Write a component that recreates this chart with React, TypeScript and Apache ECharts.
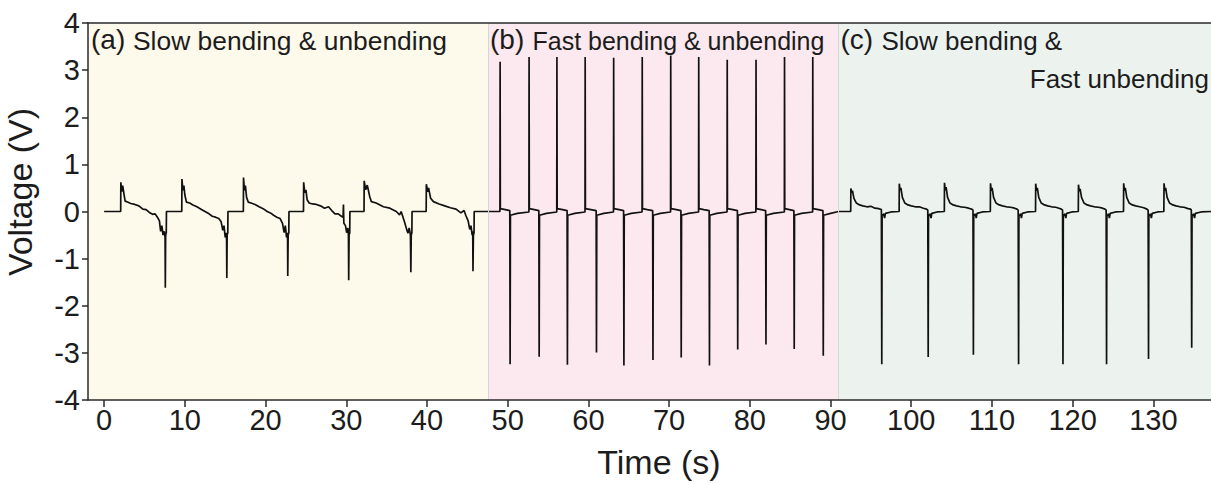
import React, { useEffect, useRef } from "react";
import * as echarts from "echarts";

// ---- axis ticks ----
const xTicks = [0, 10, 20, 30, 40, 50, 60, 70, 80, 90, 100, 110, 120, 130];
const X_MIN = -2;
const X_MAX = 137.14;

// ---- shaded regions ----
const regionBounds = [-2, 47.6, 90.9, 137.14];
const regionColors = ["#fdf9eb", "#fce9ef", "#ecf3ee"];

// ---- annotations ----
const regionTags = ["(a)", "(b)", "(c)"];
const regionTexts = ["Slow bending & unbending", "Fast bending & unbending", "Slow bending &", "Fast unbending"];

// ---- (a) slow bending & unbending : [time s, voltage V] ----
const slowSegment: number[][] = [
  [0, 0], [2.05, 0],
  [2.07, 0.62], [2.18, 0.42], [2.3, 0.55], [2.45, 0.38], [2.6, 0.22], [2.9, 0.2], [3.3, 0.17], [3.8, 0.15], [4.3, 0.12], [4.8, 0.05], [5.2, 0.04], [5.6, -0.02], [6.0, -0.06], [6.3, -0.05], [6.6, -0.12], [6.85, -0.2], [7.0, -0.42], [7.15, -0.3], [7.3, -0.5], [7.45, -0.42], [7.55, -0.55], [7.58, -1.62], [7.62, -0.5], [7.7, -0.45], [7.72, 0], [9.62, 0],
  [9.64, 0.69], [9.75, 0.45], [9.88, 0.55], [10.0, 0.35], [10.2, 0.2], [10.6, 0.18], [11.0, 0.14], [11.5, 0.1], [12.0, 0.05], [12.5, 0.0], [13.0, -0.05], [13.4, -0.1], [13.8, -0.12], [14.2, -0.15], [14.5, -0.22], [14.7, -0.4], [14.85, -0.3], [15.0, -0.55], [15.1, -0.45], [15.17, -0.6], [15.2, -1.41], [15.24, -0.5], [15.32, -0.45], [15.34, 0], [17.25, 0],
  [17.27, 0.72], [17.38, 0.45], [17.5, 0.55], [17.65, 0.3], [17.85, 0.2], [18.2, 0.18], [18.7, 0.15], [19.2, 0.1], [19.7, 0.06], [20.2, 0.0], [20.6, -0.03], [21.0, -0.08], [21.4, -0.12], [21.8, -0.15], [22.1, -0.25], [22.3, -0.45], [22.45, -0.3], [22.6, -0.55], [22.7, -0.45], [22.73, -0.6], [22.75, -1.37], [22.8, -0.5], [22.88, -0.45], [22.9, 0], [24.7, 0],
  [24.72, 0.62], [24.85, 0.4], [25.0, 0.46], [25.15, 0.25], [25.4, 0.18], [25.8, 0.16], [26.3, 0.15], [26.8, 0.12], [27.3, 0.07], [27.8, 0.1], [28.2, 0.02], [28.6, -0.05], [29.0, -0.05], [29.4, -0.1], [29.6, -0.12], [29.65, 0.15], [29.7, -0.25], [29.9, -0.3], [30.05, -0.45], [30.2, -0.35], [30.27, -0.5], [30.3, -1.46], [30.35, -0.5], [30.43, -0.45], [30.45, 0], [32.2, 0],
  [32.22, 0.65], [32.4, 0.46], [32.6, 0.56], [32.9, 0.32], [33.1, 0.21], [33.7, 0.18], [34.6, 0.1], [35.4, 0.07], [36.2, 0.0], [36.6, -0.07], [36.8, 0.0], [37.2, -0.21], [37.5, -0.39], [37.65, -0.46], [37.8, -0.35], [37.95, -0.5], [38.0, -1.29], [38.05, -0.5], [38.13, -0.45], [38.15, 0], [39.9, 0],
  [39.92, 0.58], [40.1, 0.42], [40.2, 0.5], [40.45, 0.28], [40.8, 0.21], [41.5, 0.16], [42.2, 0.12], [42.9, 0.08], [43.6, 0.05], [44.2, -0.03], [44.6, 0.02], [44.8, -0.08], [45.1, -0.2], [45.3, -0.38], [45.45, -0.3], [45.6, -0.5], [45.67, -0.42], [45.7, -1.27], [45.75, -0.5], [45.83, -0.45], [45.85, 0], [49.04, 0],
];

// ---- (b) fast bending & unbending ----
const fastSegment: number[][] = [
  [49.06, 3.18], [49.09, 0.06], [49.7, 0.04], [50.26, 0.02], [50.3, -3.24], [50.34, -0.08], [51.2, -0.04], [52.63, -0.01],
  [52.65, 3.28], [52.68, 0.06], [53.3, 0.04], [53.86, 0.02], [53.9, -3.08], [53.94, -0.08], [54.8, -0.04], [56.08, -0.01],
  [56.1, 3.28], [56.13, 0.06], [56.8, 0.04], [57.36, 0.02], [57.4, -3.25], [57.44, -0.08], [58.3, -0.04], [59.58, -0.01],
  [59.6, 3.28], [59.63, 0.06], [60.3, 0.04], [60.96, 0.02], [61.0, -2.99], [61.04, -0.08], [61.9, -0.04], [63.11, -0.01],
  [63.13, 3.26], [63.16, 0.06], [63.8, 0.04], [64.36, 0.02], [64.4, -3.27], [64.44, -0.08], [65.3, -0.04], [66.65, -0.01],
  [66.67, 3.28], [66.7, 0.06], [67.3, 0.04], [67.96, 0.02], [68.0, -3.15], [68.04, -0.08], [68.9, -0.04], [70.18, -0.01],
  [70.2, 3.31], [70.23, 0.06], [70.9, 0.04], [71.46, 0.02], [71.5, -3.1], [71.54, -0.08], [72.4, -0.04], [73.65, -0.01],
  [73.67, 3.28], [73.7, 0.06], [74.3, 0.04], [74.96, 0.02], [75.0, -3.27], [75.04, -0.08], [75.9, -0.04], [77.18, -0.01],
  [77.2, 3.22], [77.23, 0.06], [77.9, 0.04], [78.46, 0.02], [78.5, -2.93], [78.54, -0.08], [79.4, -0.04], [80.75, -0.01],
  [80.77, 3.22], [80.8, 0.06], [81.4, 0.04], [81.96, 0.02], [82.0, -2.82], [82.04, -0.08], [82.9, -0.04], [84.28, -0.01],
  [84.3, 3.28], [84.33, 0.06], [84.9, 0.04], [85.46, 0.02], [85.5, -2.92], [85.54, -0.08], [86.4, -0.04], [87.78, -0.01],
  [87.8, 3.28], [87.83, 0.06], [88.5, 0.04], [89.06, 0.02], [89.1, -3.06], [89.14, -0.08], [90.0, -0.04], [91.0, 0.0],
];

// ---- (c) slow bending & fast unbending ----
const mixedSegment: number[][] = [
  [92.5, 0],
  [92.52, 0.49], [92.62, 0.4], [92.72, 0.44], [92.9, 0.28], [93.2, 0.18], [93.6, 0.14], [94.0, 0.12], [94.5, 0.1], [95.0, 0.11], [95.5, 0.07], [96.0, 0.06], [96.3, 0.04], [96.35, -3.24], [96.39, -0.1], [96.6, -0.05], [96.7, -0.14], [96.8, -0.04], [97.5, -0.01], [98.5, 0],
  [98.52, 0.59], [98.62, 0.45], [98.72, 0.5], [98.9, 0.3], [99.2, 0.18], [99.6, 0.14], [100.0, 0.12], [100.5, 0.1], [101.0, 0.1], [101.5, 0.07], [101.9, 0.05], [102.05, 0.03], [102.1, -3.09], [102.14, -0.1], [102.35, -0.05], [102.45, -0.14], [102.55, -0.04], [103.2, -0.01], [104.1, 0],
  [104.12, 0.61], [104.22, 0.45], [104.32, 0.52], [104.5, 0.3], [104.8, 0.18], [105.2, 0.14], [105.6, 0.12], [106.1, 0.1], [106.6, 0.09], [107.1, 0.07], [107.5, 0.05], [107.65, 0.03], [107.7, -3.04], [107.74, -0.1], [107.95, -0.05], [108.05, -0.14], [108.15, -0.04], [108.8, -0.01], [109.8, 0],
  [109.82, 0.6], [109.92, 0.44], [110.02, 0.5], [110.2, 0.3], [110.5, 0.18], [110.9, 0.14], [111.3, 0.12], [111.8, 0.1], [112.3, 0.09], [112.8, 0.07], [113.1, 0.05], [113.25, 0.03], [113.3, -3.24], [113.34, -0.1], [113.55, -0.05], [113.65, -0.14], [113.75, -0.04], [114.4, -0.01], [115.4, 0],
  [115.42, 0.59], [115.52, 0.44], [115.62, 0.5], [115.8, 0.3], [116.1, 0.18], [116.5, 0.14], [116.9, 0.12], [117.4, 0.1], [117.9, 0.09], [118.3, 0.07], [118.6, 0.05], [118.75, 0.03], [118.8, -3.24], [118.84, -0.1], [119.05, -0.05], [119.15, -0.14], [119.25, -0.04], [119.9, -0.01], [120.7, 0],
  [120.72, 0.57], [120.82, 0.43], [120.92, 0.48], [121.1, 0.3], [121.4, 0.18], [121.8, 0.14], [122.2, 0.12], [122.7, 0.1], [123.2, 0.09], [123.7, 0.07], [124.0, 0.05], [124.15, 0.03], [124.2, -3.24], [124.24, -0.1], [124.45, -0.05], [124.55, -0.14], [124.65, -0.04], [125.3, -0.01], [126.3, 0],
  [126.32, 0.6], [126.42, 0.44], [126.52, 0.5], [126.7, 0.3], [127.0, 0.18], [127.4, 0.14], [127.8, 0.12], [128.3, 0.1], [128.8, 0.08], [129.2, 0.05], [129.35, 0.03], [129.4, -3.13], [129.44, -0.1], [129.65, -0.05], [129.75, -0.14], [129.85, -0.04], [130.5, -0.01], [131.3, 0],
  [131.32, 0.6], [131.42, 0.44], [131.52, 0.5], [131.7, 0.3], [132.0, 0.18], [132.4, 0.14], [132.8, 0.12], [133.3, 0.1], [133.8, 0.09], [134.3, 0.06], [134.6, 0.05], [134.7, 0.03], [134.75, -2.89], [134.79, -0.1], [135.0, -0.05], [135.1, -0.14], [135.2, -0.04], [135.9, -0.01], [137.2, 0],
];

const AXIS_COLOR = "#2a2a2a";
const TEXT_COLOR = "#1c1c1c";
const TICK_FONT = "'Liberation Sans Narrow', 'Liberation Sans', Arial, sans-serif";
const TEXT_FONT = "'Liberation Sans', Arial, sans-serif";

export default function App() {
  const ref = useRef<HTMLDivElement>(null);

  useEffect(() => {
    document.body.style.margin = "0";
    const chart = echarts.init(ref.current!, undefined, { renderer: "svg" });
    const trace = [...slowSegment, ...fastSegment, ...mixedSegment];

    const areas = regionColors.map((c, i) => [
      { xAxis: regionBounds[i], itemStyle: { color: c } },
      { xAxis: regionBounds[i + 1] },
    ]);

    const txt = (text: string, x: number, y: number, size: number, align = "left", extra: any = {}) => ({
      type: "text",
      x,
      y,
      z: 100,
      silent: true,
      ...extra,
      style: {
        text,
        fontSize: size,
        fontFamily: TEXT_FONT,
        fill: TEXT_COLOR,
        align,
        verticalAlign: "middle",
      },
    });

    const axisLine = { show: true, onZero: false, lineStyle: { color: AXIS_COLOR, width: 1.5 } };

    const option: any = {
      animation: false,
      grid: { left: 88, right: 0, top: 23, bottom: 84, containLabel: false },
      xAxis: [
        {
          type: "value",
          min: X_MIN,
          max: X_MAX,
          z: 5,
          axisLine,
          axisTick: { show: true, customValues: xTicks, length: 7, lineStyle: { color: AXIS_COLOR, width: 1.5 } },
          axisLabel: {
            customValues: xTicks,
            margin: 5,
            fontFamily: TICK_FONT,
            fontSize: 29,
            color: TEXT_COLOR,
          },
          splitLine: { show: false },
        },
        {
          type: "value",
          position: "top",
          min: X_MIN,
          max: X_MAX,
          z: 5,
          axisLine,
          axisTick: { show: false },
          axisLabel: { show: false },
          splitLine: { show: false },
        },
      ],
      yAxis: {
        type: "value",
        min: -4,
        max: 4,
        interval: 1,
        z: 5,
        axisLine,
        axisTick: { show: true, length: 6, lineStyle: { color: AXIS_COLOR, width: 1.5 } },
        axisLabel: { margin: 8, fontFamily: TICK_FONT, fontSize: 29, color: TEXT_COLOR },
        splitLine: { show: false },
      },
      series: [
        {
          type: "line",
          data: [],
          z: 1,
          silent: true,
          markArea: { silent: true, data: areas },
          markLine: {
            silent: true,
            symbol: "none",
            label: { show: false },
            lineStyle: { color: "#d6d6d6", width: 1, type: "solid" },
            data: [{ xAxis: regionBounds[1] }, { xAxis: regionBounds[2] }],
          },
        },
        {
          type: "line",
          data: trace,
          z: 3,
          showSymbol: false,
          symbol: "none",
          lineStyle: { color: "#111111", width: 1.7 },
          silent: true,
        },
      ],
      graphic: [
        txt(regionTags[0], 91, 39.5, 28),
        txt(regionTexts[0], 133, 40.5, 26.4),
        txt(regionTags[1], 490, 39.5, 28),
        txt(regionTexts[1], 532.5, 40.8, 25),
        txt(regionTags[2], 840.5, 39.5, 28),
        txt(regionTexts[2], 881.5, 40.5, 26),
        txt(regionTexts[3], 1209, 79.3, 26, "right"),
        txt("Voltage (V)", 20, 192, 34, "center", { rotation: Math.PI / 2 }),
        txt("Time (s)", 659, 462, 34, "center"),
      ],
    };

    chart.setOption(option);
    return () => chart.dispose();
  }, []);

  return (
    <div
      ref={ref}
      style={{ position: "absolute", left: 0, top: 0, width: 1211, height: 484 }}
    />
  );
}
